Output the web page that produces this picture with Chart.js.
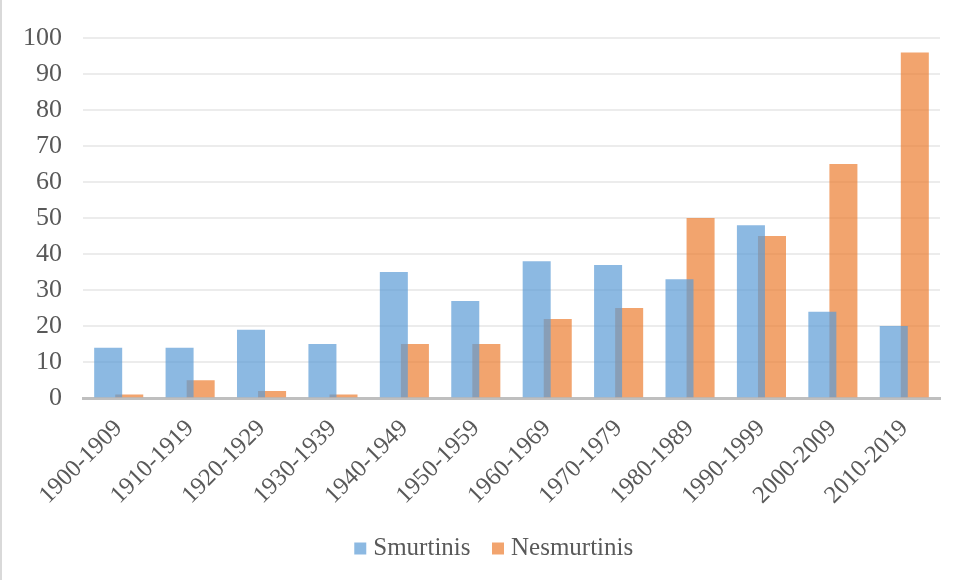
<!DOCTYPE html>
<html>
<head>
<meta charset="utf-8">
<script src="https://cdn.jsdelivr.net/npm/chart.js@4/dist/chart.umd.min.js"></script>
<style>
  html, body { margin: 0; padding: 0; background: #fff; }
  #wrap { position: relative; width: 955px; height: 580px; box-sizing: border-box; border-left: 2px solid #d9d9d9; }
</style>
</head>
<body>
<div id="wrap"><canvas id="myChart" width="953" height="580"></canvas></div>
<script>
var decades = ['1900-1909', '1910-1919', '1920-1929', '1930-1939', '1940-1949', '1950-1959',
  '1960-1969', '1970-1979', '1980-1989', '1990-1999', '2000-2009', '2010-2019'];
var smurtinis = [14, 14, 19, 15, 35, 27, 38, 37, 33, 48, 24, 20];
var nesmurtinis = [1, 5, 2, 1, 15, 15, 22, 25, 50, 45, 65, 96];
var yTicks = [0, 10, 20, 30, 40, 50, 60, 70, 80, 90, 100];

var serif = "'Liberation Serif', 'Times New Roman', serif";
var textColor = '#595959';

// nudge the legend row to where the original has it
var shiftLegend = {
  id: 'shiftLegend',
  afterLayout: function (chart) {
    chart.legend.left += 24;
    chart.legend.right += 24;
    chart.legend.top -= 17;
    chart.legend.bottom -= 17;
  }
};

var ctx = document.getElementById('myChart').getContext('2d');
var myChart = new Chart(ctx, {
  type: 'bar',
  data: {
    labels: decades,
    datasets: [
      { label: 'Smurtinis', data: smurtinis, backgroundColor: 'rgba(91,155,213,0.7)' },
      { label: 'Nesmurtinis', data: nesmurtinis, backgroundColor: 'rgba(237,125,49,0.7)' }
    ]
  },
  plugins: [shiftLegend],
  options: {
    responsive: false,
    animation: false,
    // bars wider than their slot so the two series overlap a little
    categoryPercentage: 0.59,
    barPercentage: 1.33,
    layout: { padding: { left: 3, right: 15, top: 38, bottom: -8 } },
    plugins: {
      tooltip: { enabled: false },
      legend: {
        position: 'bottom',
        labels: {
          usePointStyle: true, pointStyle: 'rect', boxWidth: 1, boxHeight: 12, padding: 27,
          color: textColor, font: { family: serif, size: 25 }
        }
      }
    },
    scales: {
      x: {
        grid: { display: false, drawTicks: false },
        border: { color: '#bfbfbf', width: 3 },
        afterFit: function (axis) { axis.paddingLeft = 0; axis.paddingRight = 0; },
        ticks: {
          color: textColor, minRotation: 45, maxRotation: 45, padding: 16, labelOffset: 0,
          font: { family: serif, size: 24.5 }
        }
      },
      y: {
        min: 0, max: 100,
        afterBuildTicks: function (axis) { axis.ticks = yTicks.map(function (v) { return { value: v }; }); },
        afterFit: function (axis) { axis.width = 78; },
        grid: { color: '#ececec', lineWidth: 2, drawTicks: false },
        border: { display: false },
        ticks: { color: textColor, padding: 21, font: { family: serif, size: 26 } }
      }
    }
  }
});
</script>
</body>
</html>
